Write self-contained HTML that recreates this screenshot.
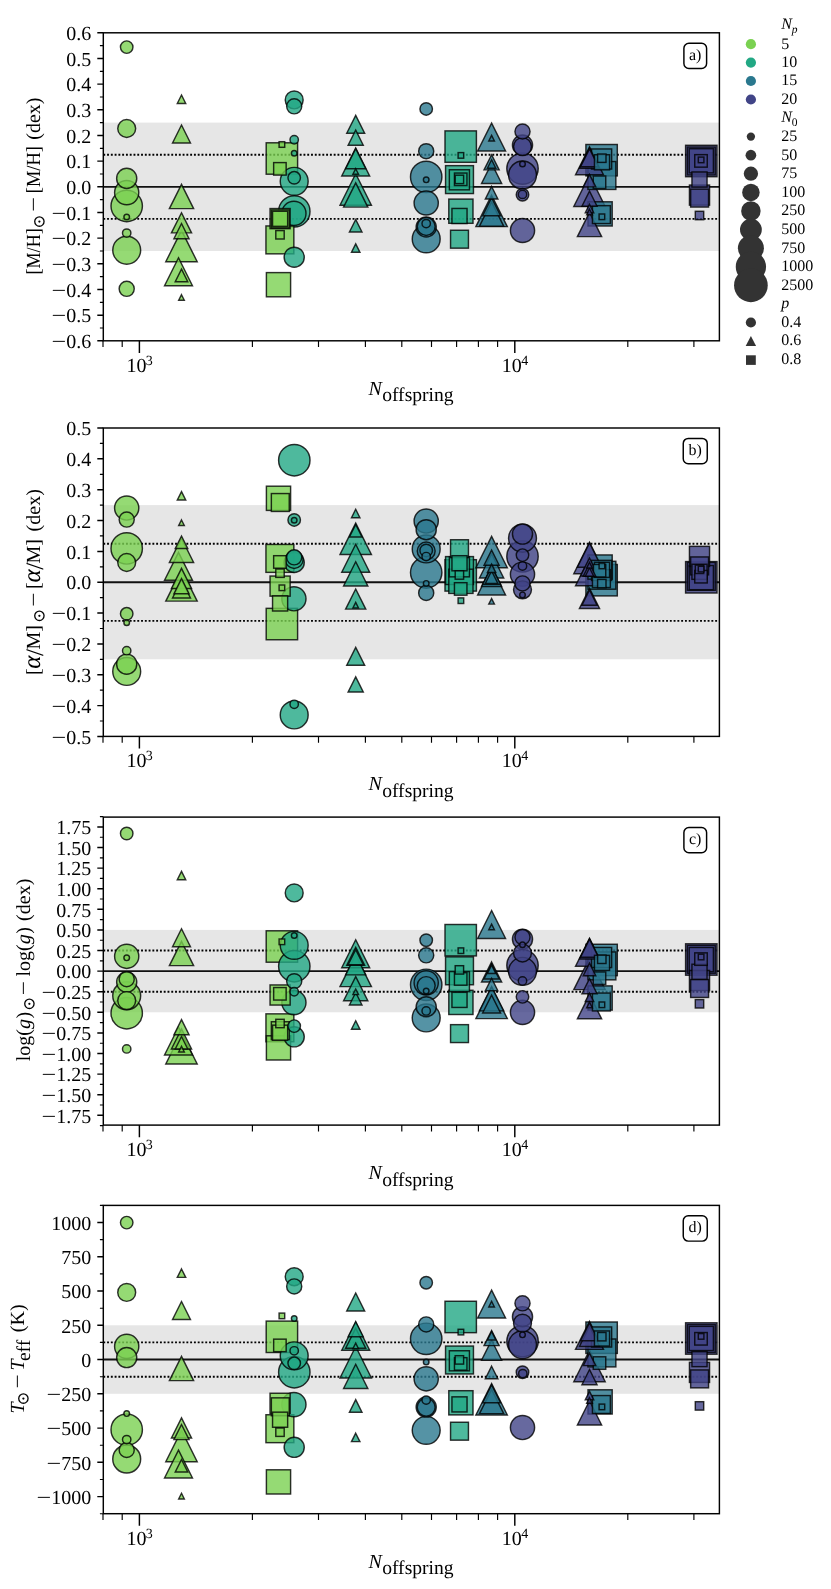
<!DOCTYPE html>
<html lang="en"><head><meta charset="utf-8"><title>Figure</title>
<style>html,body{margin:0;padding:0;background:#fff}svg{display:block;will-change:transform;opacity:.999}.a{fill:#7ad151}.b{fill:#22a884}.c{fill:#2a788e}.d{fill:#414487}svg text{font-family:"Liberation Serif","DejaVu Serif",serif;text-rendering:geometricPrecision}</style>
</head><body>
<svg width="831" height="1589" viewBox="0 0 831 1589" fill="#000">
<rect width="831" height="1589" fill="#fff"/>
<g>
<rect x="103.3" y="122.6" width="616.1" height="128.4" fill="#e6e6e6"/>
<line x1="103.3" x2="719.4" y1="186.8" y2="186.8" stroke="#111" stroke-width="1.85"/>
<line x1="103.3" x2="719.4" y1="154.7" y2="154.7" stroke="#000" stroke-width="1.85" stroke-dasharray="1.89 1.887"/>
<line x1="103.3" x2="719.4" y1="218.9" y2="218.9" stroke="#000" stroke-width="1.85" stroke-dasharray="1.89 1.887"/>
<g stroke="#000" stroke-width="1.45" fill-opacity="0.8" stroke-opacity="0.8" stroke-linejoin="miter">
<circle class="a" cx="126.7" cy="206" r="15.7"/>
<path class="a" d="M181.5 230.35L197.2 261.75H165.8Z"/>
<rect class="a" x="266.2" y="142.8" width="31.4" height="31.4"/>
<circle class="b" cx="294.3" cy="211.4" r="15.7"/>
<path class="b" d="M355.7 173.8L371.4 205.2H340Z"/>
<rect class="b" x="445" y="130.9" width="31.4" height="31.4"/>
<circle class="c" cx="426.2" cy="176.9" r="15.7"/>
<path class="c" d="M491.6 195.2L507.3 226.6H475.9Z"/>
<rect class="c" x="585.9" y="144.5" width="31.4" height="31.4"/>
<circle class="d" cx="522.5" cy="168.6" r="15.7"/>
<path class="d" d="M589.5 175.1L605.2 206.5H573.8Z"/>
<rect class="d" x="685.6" y="145.3" width="31.4" height="31.4"/>
<circle class="a" cx="126.7" cy="250.2" r="13.95"/>
<path class="a" d="M178.5 257.75L192.45 285.65H164.55Z"/>
<rect class="a" x="265.95" y="225.95" width="27.9" height="27.9"/>
<circle class="b" cx="294.2" cy="181.3" r="13.95"/>
<path class="b" d="M355.7 148.05L369.65 175.95H341.75Z"/>
<rect class="b" x="445.55" y="165.65" width="27.9" height="27.9"/>
<circle class="c" cx="426.2" cy="238.9" r="13.95"/>
<path class="c" d="M491.6 123.15L505.55 151.05H477.65Z"/>
<rect class="c" x="587.95" y="161.55" width="27.9" height="27.9"/>
<circle class="d" cx="522.5" cy="175" r="13.95"/>
<path class="d" d="M589.5 146.85L603.45 174.75H575.55Z"/>
<rect class="d" x="687.35" y="147.05" width="27.9" height="27.9"/>
<circle class="a" cx="126.7" cy="192.6" r="12.1"/>
<path class="a" d="M181.5 184.4L193.6 208.6H169.4Z"/>
<rect class="a" x="266.4" y="272.6" width="24.2" height="24.2"/>
<circle class="b" cx="293.9" cy="213.4" r="12.1"/>
<path class="b" d="M355.7 182.9L367.8 207.1H343.6Z"/>
<rect class="b" x="448.8" y="199.1" width="24.2" height="24.2"/>
<circle class="c" cx="426.2" cy="203" r="12.1"/>
<path class="c" d="M491.6 201.9L503.7 226.1H479.5Z"/>
<rect class="c" x="588" y="201.8" width="24.2" height="24.2"/>
<circle class="d" cx="522.5" cy="230.5" r="12.1"/>
<path class="d" d="M589.5 212.4L601.6 236.6H577.4Z"/>
<rect class="d" x="689.2" y="148.7" width="24.2" height="24.2"/>
<circle class="a" cx="126.7" cy="178.4" r="10.05"/>
<path class="a" d="M181.5 212.75L191.55 232.85H171.45Z"/>
<rect class="a" x="270.05" y="208.55" width="20.1" height="20.1"/>
<circle class="b" cx="294.2" cy="257.2" r="10.05"/>
<path class="b" d="M355.7 148.65L365.75 168.75H345.65Z"/>
<rect class="b" x="449.35" y="169.75" width="20.1" height="20.1"/>
<circle class="c" cx="426.2" cy="227" r="10.05"/>
<path class="c" d="M491.6 163.35L501.65 183.45H481.55Z"/>
<rect class="c" x="591.55" y="148.95" width="20.1" height="20.1"/>
<circle class="d" cx="522.5" cy="145" r="10.05"/>
<path class="d" d="M589.5 148.15L599.55 168.25H579.45Z"/>
<rect class="d" x="689.45" y="185.05" width="20.1" height="20.1"/>
<circle class="a" cx="126.7" cy="128.5" r="8.95"/>
<path class="a" d="M181.5 125.05L190.45 142.95H172.55Z"/>
<rect class="a" x="271.35" y="209.95" width="17.9" height="17.9"/>
<circle class="b" cx="294.2" cy="99.9" r="8.95"/>
<path class="b" d="M355.7 115.35L364.65 133.25H346.75Z"/>
<rect class="b" x="450.55" y="230.25" width="17.9" height="17.9"/>
<circle class="c" cx="426.2" cy="226.5" r="8.95"/>
<path class="c" d="M491.6 197.75L500.55 215.65H482.65Z"/>
<rect class="c" x="592.45" y="205.65" width="17.9" height="17.9"/>
<circle class="d" cx="522.5" cy="146.6" r="8.95"/>
<path class="d" d="M589.5 148.85L598.45 166.75H580.55Z"/>
<rect class="d" x="690.65" y="189.15" width="17.9" height="17.9"/>
<circle class="a" cx="126.7" cy="288.8" r="7.55"/>
<path class="a" d="M181.5 223.55L189.05 238.65H173.95Z"/>
<rect class="a" x="272.55" y="211.25" width="15.1" height="15.1"/>
<circle class="b" cx="294.2" cy="106.3" r="7.55"/>
<path class="b" d="M355.7 130.05L363.25 145.15H348.15Z"/>
<rect class="b" x="451.95" y="208.45" width="15.1" height="15.1"/>
<circle class="c" cx="426.2" cy="151.2" r="7.55"/>
<path class="c" d="M491.6 154.75L499.15 169.85H484.05Z"/>
<rect class="c" x="594.45" y="154.75" width="15.1" height="15.1"/>
<circle class="d" cx="522.5" cy="131.5" r="7.55"/>
<path class="d" d="M589.5 191.15L597.05 206.25H581.95Z"/>
<rect class="d" x="691.95" y="171.95" width="15.1" height="15.1"/>
<circle class="a" cx="126.7" cy="47.1" r="6.25"/>
<path class="a" d="M181.5 269.15L187.75 281.65H175.25Z"/>
<rect class="a" x="273.65" y="162.6" width="12.5" height="12.5"/>
<circle class="b" cx="294.2" cy="177.8" r="6.25"/>
<path class="b" d="M355.7 219.5L361.95 232H349.45Z"/>
<rect class="b" x="454.45" y="173.05" width="12.5" height="12.5"/>
<circle class="c" cx="426.2" cy="108.9" r="6.25"/>
<path class="c" d="M491.6 186.45L497.85 198.95H485.35Z"/>
<rect class="c" x="593.25" y="176" width="12.5" height="12.5"/>
<circle class="d" cx="522.5" cy="194.7" r="6.25"/>
<path class="d" d="M589.5 174.35L595.75 186.85H583.25Z"/>
<rect class="d" x="694.75" y="154.65" width="12.5" height="12.5"/>
<circle class="a" cx="126.7" cy="233.1" r="4.2"/>
<path class="a" d="M181.5 95L185.7 103.4H177.3Z"/>
<rect class="a" x="275.8" y="230.6" width="8.4" height="8.4"/>
<circle class="b" cx="294.2" cy="139.7" r="4.2"/>
<path class="b" d="M355.7 243.85L359.9 252.25H351.5Z"/>
<rect class="b" x="455.2" y="175.2" width="8.4" height="8.4"/>
<circle class="c" cx="426.2" cy="223.6" r="4.2"/>
<path class="c" d="M491.6 159.8L495.8 168.2H487.4Z"/>
<rect class="c" x="597.6" y="154" width="8.4" height="8.4"/>
<circle class="d" cx="522.5" cy="194.4" r="4.2"/>
<path class="d" d="M589.5 204.3L593.7 212.7H585.3Z"/>
<rect class="d" x="695.3" y="211.3" width="8.4" height="8.4"/>
<circle class="a" cx="126.7" cy="217" r="2.8"/>
<path class="a" d="M181.5 294.7L184.3 300.3H178.7Z"/>
<rect class="a" x="279.1" y="141.7" width="5.6" height="5.6"/>
<circle class="b" cx="294.2" cy="153.2" r="2.8"/>
<path class="b" d="M355.7 168.7L358.5 174.3H352.9Z"/>
<rect class="b" x="458.1" y="152.6" width="5.6" height="5.6"/>
<circle class="c" cx="426.2" cy="179.8" r="2.8"/>
<path class="c" d="M491.6 135.4L494.4 141H488.8Z"/>
<rect class="c" x="599.1" y="214" width="5.6" height="5.6"/>
<circle class="d" cx="522.5" cy="163.95" r="2.8"/>
<path class="d" d="M589.5 209.2L592.3 214.8H586.7Z"/>
<rect class="d" x="698.3" y="157.1" width="5.6" height="5.6"/>
</g>
<rect x="103.3" y="32.8" width="616.1" height="308.0" fill="none" stroke="#000" stroke-width="1.45"/>
<path d="M103.3 340.8h-6M103.3 315.2h-6M103.3 289.5h-6M103.3 263.8h-6M103.3 238.1h-6M103.3 212.5h-6M103.3 186.8h-6M103.3 161.1h-6M103.3 135.5h-6M103.3 109.8h-6M103.3 84.1h-6M103.3 58.4h-6M103.3 32.8h-6M139.4 340.8v12.1M514.8 340.8v12.1" stroke="#000" stroke-width="1.45" fill="none"/>
<path d="M103.3 328.0h-3.4M103.3 302.3h-3.4M103.3 276.6h-3.4M103.3 251.0h-3.4M103.3 225.3h-3.4M103.3 199.6h-3.4M103.3 174.0h-3.4M103.3 148.3h-3.4M103.3 122.6h-3.4M103.3 97.0h-3.4M103.3 71.3h-3.4M103.3 45.6h-3.4M103.0 340.8v6.3M122.2 340.8v6.3M252.4 340.8v6.3M318.5 340.8v6.3M365.4 340.8v6.3M401.8 340.8v6.3M431.5 340.8v6.3M456.6 340.8v6.3M478.4 340.8v6.3M497.6 340.8v6.3M627.8 340.8v6.3M693.9 340.8v6.3" stroke="#000" stroke-width="1.15" fill="none"/>
<g font-size="20" text-anchor="end">
<text x="91.2" y="348.0"><tspan textLength="14.7" lengthAdjust="spacingAndGlyphs">−</tspan>0.6</text>
<text x="91.2" y="322.4"><tspan textLength="14.7" lengthAdjust="spacingAndGlyphs">−</tspan>0.5</text>
<text x="91.2" y="296.7"><tspan textLength="14.7" lengthAdjust="spacingAndGlyphs">−</tspan>0.4</text>
<text x="91.2" y="271.0"><tspan textLength="14.7" lengthAdjust="spacingAndGlyphs">−</tspan>0.3</text>
<text x="91.2" y="245.3"><tspan textLength="14.7" lengthAdjust="spacingAndGlyphs">−</tspan>0.2</text>
<text x="91.2" y="219.7"><tspan textLength="14.7" lengthAdjust="spacingAndGlyphs">−</tspan>0.1</text>
<text x="91.2" y="194.0">0.0</text>
<text x="91.2" y="168.3">0.1</text>
<text x="91.2" y="142.7">0.2</text>
<text x="91.2" y="117.0">0.3</text>
<text x="91.2" y="91.3">0.4</text>
<text x="91.2" y="65.6">0.5</text>
<text x="91.2" y="40.0">0.6</text>
</g>
<text x="126.4" y="371.8" font-size="20">10<tspan font-size="14" dy="-7" dx="-0.6">3</tspan></text>
<text x="501.8" y="371.8" font-size="20">10<tspan font-size="14" dy="-7" dx="-0.6">4</tspan></text>
<text x="368.6" y="394.7" font-size="20"><tspan font-style="italic">N</tspan><tspan dy="6.5" dx="0.2" font-size="19.6">offspring</tspan></text>
<g transform="translate(40.2 273.0) rotate(-90)"><text x="-1.60" y="0.00" font-size="20" textLength="46.4" lengthAdjust="spacingAndGlyphs">[M/H]</text><text x="44.81" y="3.62" font-size="16.8" style="font-family:'DejaVu Math TeX Gyre','DejaVu Sans',sans-serif">⊙</text><text x="61.29" y="0.00" font-size="20" textLength="14.8" lengthAdjust="spacingAndGlyphs">−</text><text x="79.80" y="0.00" font-size="20" textLength="47.2" lengthAdjust="spacingAndGlyphs">[M/H]</text><text x="133.30" y="0.00" font-size="20">(dex)</text></g>
<rect x="683.90" y="43.2" width="22.7" height="25.3" rx="5" fill="#fff" stroke="#000" stroke-width="1.45"/>
<text x="695.2" y="59.5" font-size="16" text-anchor="middle">a)</text>
</g>
<g>
<rect x="103.3" y="505.1" width="616.1" height="154.2" fill="#e6e6e6"/>
<line x1="103.3" x2="719.4" y1="582.2" y2="582.2" stroke="#111" stroke-width="1.85"/>
<line x1="103.3" x2="719.4" y1="543.7" y2="543.7" stroke="#000" stroke-width="1.85" stroke-dasharray="1.89 1.887"/>
<line x1="103.3" x2="719.4" y1="620.8" y2="620.8" stroke="#000" stroke-width="1.85" stroke-dasharray="1.89 1.887"/>
<g stroke="#000" stroke-width="1.45" fill-opacity="0.8" stroke-opacity="0.8" stroke-linejoin="miter">
<circle class="a" cx="126.7" cy="548.4" r="15.7"/>
<path class="a" d="M181.5 569.7L197.2 601.1H165.8Z"/>
<rect class="a" x="266.2" y="608.35" width="31.4" height="31.4"/>
<circle class="b" cx="294.3" cy="460.2" r="15.7"/>
<path class="b" d="M355.7 523.1L371.4 554.5H340Z"/>
<rect class="b" x="445" y="559.7" width="31.4" height="31.4"/>
<circle class="c" cx="426.2" cy="572.5" r="15.7"/>
<path class="c" d="M491.6 536.4L507.3 567.8H475.9Z"/>
<rect class="c" x="585.9" y="564.5" width="31.4" height="31.4"/>
<circle class="d" cx="522.5" cy="556.4" r="15.7"/>
<path class="d" d="M589.5 542.3L605.2 573.7H573.8Z"/>
<rect class="d" x="685.6" y="561.6" width="31.4" height="31.4"/>
<circle class="a" cx="126.7" cy="671.4" r="13.95"/>
<path class="a" d="M178.5 552.35L192.45 580.25H164.55Z"/>
<rect class="a" x="265.95" y="544.45" width="27.9" height="27.9"/>
<circle class="b" cx="294.2" cy="714.9" r="13.95"/>
<path class="b" d="M355.7 544.25L369.65 572.15H341.75Z"/>
<rect class="b" x="445.55" y="556.6" width="27.9" height="27.9"/>
<circle class="c" cx="426.2" cy="548.9" r="13.95"/>
<path class="c" d="M491.6 567.15L505.55 595.05H477.65Z"/>
<rect class="c" x="587.95" y="561.3" width="27.9" height="27.9"/>
<circle class="d" cx="522.5" cy="538.2" r="13.95"/>
<path class="d" d="M589.5 557.8L603.45 585.7H575.55Z"/>
<rect class="d" x="687.35" y="562.45" width="27.9" height="27.9"/>
<circle class="a" cx="126.7" cy="508" r="12.1"/>
<path class="a" d="M181.5 538.2L193.6 562.4H169.4Z"/>
<rect class="a" x="266.4" y="486.2" width="24.2" height="24.2"/>
<circle class="b" cx="293.9" cy="598.75" r="12.1"/>
<path class="b" d="M355.7 561.8L367.8 586H343.6Z"/>
<rect class="b" x="448.8" y="569.2" width="24.2" height="24.2"/>
<circle class="c" cx="426.2" cy="521" r="12.1"/>
<path class="c" d="M491.6 553.8L503.7 578H479.5Z"/>
<rect class="c" x="588" y="554.95" width="24.2" height="24.2"/>
<circle class="d" cx="522.5" cy="574.2" r="12.1"/>
<path class="d" d="M589.5 543.05L601.6 567.25H577.4Z"/>
<rect class="d" x="689.2" y="565.5" width="24.2" height="24.2"/>
<circle class="a" cx="126.7" cy="664.15" r="10.05"/>
<path class="a" d="M181.5 568.35L191.55 588.45H171.45Z"/>
<rect class="a" x="270.05" y="576.05" width="20.1" height="20.1"/>
<circle class="b" cx="294.2" cy="562.5" r="10.05"/>
<path class="b" d="M355.7 589L365.75 609.1H345.65Z"/>
<rect class="b" x="449.35" y="556.75" width="20.1" height="20.1"/>
<circle class="c" cx="426.2" cy="529.7" r="10.05"/>
<path class="c" d="M491.6 566.5L501.65 586.6H481.55Z"/>
<rect class="c" x="591.55" y="560.35" width="20.1" height="20.1"/>
<circle class="d" cx="522.5" cy="534.1" r="10.05"/>
<path class="d" d="M589.5 588.3L599.55 608.4H579.45Z"/>
<rect class="d" x="689.45" y="546.35" width="20.1" height="20.1"/>
<circle class="a" cx="126.7" cy="562.5" r="8.95"/>
<path class="a" d="M181.5 580L190.45 597.9H172.55Z"/>
<rect class="a" x="271.35" y="493.55" width="17.9" height="17.9"/>
<circle class="b" cx="294.2" cy="559.5" r="8.95"/>
<path class="b" d="M355.7 647.4L364.65 665.3H346.75Z"/>
<rect class="b" x="450.55" y="539.75" width="17.9" height="17.9"/>
<circle class="c" cx="426.2" cy="551" r="8.95"/>
<path class="c" d="M491.6 566.6L500.55 584.5H482.65Z"/>
<rect class="c" x="592.45" y="569.65" width="17.9" height="17.9"/>
<circle class="d" cx="522.5" cy="589.8" r="8.95"/>
<path class="d" d="M589.5 558.02L598.45 575.92H580.55Z"/>
<rect class="d" x="690.65" y="556.95" width="17.9" height="17.9"/>
<circle class="a" cx="126.7" cy="519.6" r="7.55"/>
<path class="a" d="M181.5 578.55L189.05 593.65H173.95Z"/>
<rect class="a" x="272.55" y="595.9" width="15.1" height="15.1"/>
<circle class="b" cx="294.2" cy="557.35" r="7.55"/>
<path class="b" d="M355.7 676.9L363.25 692H348.15Z"/>
<rect class="b" x="451.95" y="555.7" width="15.1" height="15.1"/>
<circle class="c" cx="426.2" cy="592.9" r="7.55"/>
<path class="c" d="M491.6 550.1L499.15 565.2H484.05Z"/>
<rect class="c" x="594.45" y="562.3" width="15.1" height="15.1"/>
<circle class="d" cx="522.5" cy="583.4" r="7.55"/>
<path class="d" d="M589.5 590.05L597.05 605.15H581.95Z"/>
<rect class="d" x="691.95" y="564.25" width="15.1" height="15.1"/>
<circle class="a" cx="126.7" cy="613.8" r="6.25"/>
<path class="a" d="M181.5 536L187.75 548.5H175.25Z"/>
<rect class="a" x="273.65" y="555.7" width="12.5" height="12.5"/>
<circle class="b" cx="294.2" cy="519.9" r="6.25"/>
<path class="b" d="M355.7 524.55L361.95 537.05H349.45Z"/>
<rect class="b" x="454.45" y="582.7" width="12.5" height="12.5"/>
<circle class="c" cx="426.2" cy="550.4" r="6.25"/>
<path class="c" d="M491.6 570.9L497.85 583.4H485.35Z"/>
<rect class="c" x="593.25" y="564.45" width="12.5" height="12.5"/>
<circle class="d" cx="522.5" cy="555.1" r="6.25"/>
<path class="d" d="M589.5 563.7L595.75 576.2H583.25Z"/>
<rect class="d" x="694.75" y="570.45" width="12.5" height="12.5"/>
<circle class="a" cx="126.7" cy="650.65" r="4.2"/>
<path class="a" d="M181.5 491.6L185.7 500H177.3Z"/>
<rect class="a" x="275.8" y="569" width="8.4" height="8.4"/>
<circle class="b" cx="294.2" cy="704.3" r="4.2"/>
<path class="b" d="M355.7 509.25L359.9 517.65H351.5Z"/>
<rect class="b" x="455.2" y="570.8" width="8.4" height="8.4"/>
<circle class="c" cx="426.2" cy="556.6" r="4.2"/>
<path class="c" d="M491.6 564.15L495.8 572.55H487.4Z"/>
<rect class="c" x="597.6" y="579.4" width="8.4" height="8.4"/>
<circle class="d" cx="522.5" cy="566.1" r="4.2"/>
<path class="d" d="M589.5 567.8L593.7 576.2H585.3Z"/>
<rect class="d" x="695.3" y="565.1" width="8.4" height="8.4"/>
<circle class="a" cx="126.7" cy="622.7" r="2.8"/>
<path class="a" d="M181.5 519.95L184.3 525.55H178.7Z"/>
<rect class="a" x="279.1" y="585" width="5.6" height="5.6"/>
<circle class="b" cx="294.2" cy="520.2" r="2.8"/>
<path class="b" d="M355.7 602.4L358.5 608H352.9Z"/>
<rect class="b" x="458.1" y="597.9" width="5.6" height="5.6"/>
<circle class="c" cx="426.2" cy="583.4" r="2.8"/>
<path class="c" d="M491.6 598.5L494.4 604.1H488.8Z"/>
<rect class="c" x="599.1" y="563.1" width="5.6" height="5.6"/>
<circle class="d" cx="522.5" cy="594.9" r="2.8"/>
<path class="d" d="M589.5 562.3L592.3 567.9H586.7Z"/>
<rect class="d" x="698.3" y="566.3" width="5.6" height="5.6"/>
</g>
<rect x="103.3" y="428.0" width="616.1" height="308.4" fill="none" stroke="#000" stroke-width="1.45"/>
<path d="M103.3 736.4h-6M103.3 705.6h-6M103.3 674.7h-6M103.3 643.9h-6M103.3 613.0h-6M103.3 582.2h-6M103.3 551.4h-6M103.3 520.5h-6M103.3 489.7h-6M103.3 458.8h-6M103.3 428.0h-6M139.4 736.4v12.1M514.8 736.4v12.1" stroke="#000" stroke-width="1.45" fill="none"/>
<path d="M103.3 721.0h-3.4M103.3 690.1h-3.4M103.3 659.3h-3.4M103.3 628.5h-3.4M103.3 597.6h-3.4M103.3 566.8h-3.4M103.3 535.9h-3.4M103.3 505.1h-3.4M103.3 474.3h-3.4M103.3 443.4h-3.4M103.0 736.4v6.3M122.2 736.4v6.3M252.4 736.4v6.3M318.5 736.4v6.3M365.4 736.4v6.3M401.8 736.4v6.3M431.5 736.4v6.3M456.6 736.4v6.3M478.4 736.4v6.3M497.6 736.4v6.3M627.8 736.4v6.3M693.9 736.4v6.3" stroke="#000" stroke-width="1.15" fill="none"/>
<g font-size="20" text-anchor="end">
<text x="91.2" y="743.6"><tspan textLength="14.7" lengthAdjust="spacingAndGlyphs">−</tspan>0.5</text>
<text x="91.2" y="712.8"><tspan textLength="14.7" lengthAdjust="spacingAndGlyphs">−</tspan>0.4</text>
<text x="91.2" y="681.9"><tspan textLength="14.7" lengthAdjust="spacingAndGlyphs">−</tspan>0.3</text>
<text x="91.2" y="651.1"><tspan textLength="14.7" lengthAdjust="spacingAndGlyphs">−</tspan>0.2</text>
<text x="91.2" y="620.2"><tspan textLength="14.7" lengthAdjust="spacingAndGlyphs">−</tspan>0.1</text>
<text x="91.2" y="589.4">0.0</text>
<text x="91.2" y="558.6">0.1</text>
<text x="91.2" y="527.7">0.2</text>
<text x="91.2" y="496.9">0.3</text>
<text x="91.2" y="466.0">0.4</text>
<text x="91.2" y="435.2">0.5</text>
</g>
<text x="126.4" y="767.4" font-size="20">10<tspan font-size="14" dy="-7" dx="-0.6">3</tspan></text>
<text x="501.8" y="767.4" font-size="20">10<tspan font-size="14" dy="-7" dx="-0.6">4</tspan></text>
<text x="368.6" y="790.3" font-size="20"><tspan font-style="italic">N</tspan><tspan dy="6.5" dx="0.2" font-size="19.6">offspring</tspan></text>
<g transform="translate(40.2 673.5) rotate(-90)"><text x="-1.60" y="0.00" font-size="20">[<tspan font-style="italic" font-size="25" dx="-0.2">α</tspan><tspan dx="-0.4" dy="2.5" font-size="25">/</tspan><tspan dx="-0.6" dy="-2.5">M]</tspan></text><text x="50.91" y="3.62" font-size="16.8" style="font-family:'DejaVu Math TeX Gyre','DejaVu Sans',sans-serif">⊙</text><text x="66.84" y="0.00" font-size="20" textLength="14.3" lengthAdjust="spacingAndGlyphs">−</text><text x="84.50" y="0.00" font-size="20">[<tspan font-style="italic" font-size="25" dx="-0.2">α</tspan><tspan dx="-0.4" dy="2.5" font-size="25">/</tspan><tspan dx="-0.6" dy="-2.5">M]</tspan></text><text x="142.10" y="0.00" font-size="20">(dex)</text></g>
<rect x="683.25" y="438.4" width="24.0" height="25.3" rx="5" fill="#fff" stroke="#000" stroke-width="1.45"/>
<text x="695.2" y="454.7" font-size="16" text-anchor="middle">b)</text>
</g>
<g>
<rect x="103.3" y="929.9" width="616.1" height="82.4" fill="#e6e6e6"/>
<line x1="103.3" x2="719.4" y1="971.1" y2="971.1" stroke="#111" stroke-width="1.85"/>
<line x1="103.3" x2="719.4" y1="950.5" y2="950.5" stroke="#000" stroke-width="1.85" stroke-dasharray="1.89 1.887"/>
<line x1="103.3" x2="719.4" y1="991.7" y2="991.7" stroke="#000" stroke-width="1.85" stroke-dasharray="1.89 1.887"/>
<g stroke="#000" stroke-width="1.45" fill-opacity="0.8" stroke-opacity="0.8" stroke-linejoin="miter">
<circle class="a" cx="126.7" cy="1013.2" r="15.7"/>
<path class="a" d="M181.5 1032.5L197.2 1063.9H165.8Z"/>
<rect class="a" x="266.2" y="930.8" width="31.4" height="31.4"/>
<circle class="b" cx="294.3" cy="966.25" r="15.7"/>
<path class="b" d="M355.7 955.2L371.4 986.6H340Z"/>
<rect class="b" x="445" y="924.5" width="31.4" height="31.4"/>
<circle class="c" cx="426.2" cy="984.8" r="15.7"/>
<path class="c" d="M491.6 987.2L507.3 1018.6H475.9Z"/>
<rect class="c" x="585.9" y="944.26" width="31.4" height="31.4"/>
<circle class="d" cx="522.5" cy="965.3" r="15.7"/>
<path class="d" d="M589.5 958.2L605.2 989.6H573.8Z"/>
<rect class="d" x="685.6" y="943.8" width="31.4" height="31.4"/>
<circle class="a" cx="126.7" cy="995.75" r="13.95"/>
<path class="a" d="M178.5 1027.05L192.45 1054.95H164.55Z"/>
<rect class="a" x="265.95" y="1013.85" width="27.9" height="27.9"/>
<circle class="b" cx="294.2" cy="945.3" r="13.95"/>
<path class="b" d="M355.7 939.75L369.65 967.65H341.75Z"/>
<rect class="b" x="445.55" y="956.85" width="27.9" height="27.9"/>
<circle class="c" cx="426.2" cy="1017.9" r="13.95"/>
<path class="c" d="M491.6 910.5L505.55 938.4H477.65Z"/>
<rect class="c" x="587.95" y="951.95" width="27.9" height="27.9"/>
<circle class="d" cx="522.5" cy="971.3" r="13.95"/>
<path class="d" d="M589.5 938.25L603.45 966.15H575.55Z"/>
<rect class="d" x="687.35" y="945.35" width="27.9" height="27.9"/>
<circle class="a" cx="126.7" cy="956.3" r="12.1"/>
<path class="a" d="M181.5 941.4L193.6 965.6H169.4Z"/>
<rect class="a" x="266.4" y="1035.8" width="24.2" height="24.2"/>
<circle class="b" cx="293.9" cy="1002.6" r="12.1"/>
<path class="b" d="M355.7 976.6L367.8 1000.8H343.6Z"/>
<rect class="b" x="448.8" y="990.3" width="24.2" height="24.2"/>
<circle class="c" cx="426.2" cy="982.85" r="12.1"/>
<path class="c" d="M491.6 986.65L503.7 1010.85H479.5Z"/>
<rect class="c" x="588" y="985.9" width="24.2" height="24.2"/>
<circle class="d" cx="522.5" cy="1012.4" r="12.1"/>
<path class="d" d="M589.5 994.6L601.6 1018.8H577.4Z"/>
<rect class="d" x="689.2" y="947.45" width="24.2" height="24.2"/>
<circle class="a" cx="126.7" cy="982.1" r="10.05"/>
<path class="a" d="M181.5 1028.9L191.55 1049H171.45Z"/>
<rect class="a" x="270.05" y="984.95" width="20.1" height="20.1"/>
<circle class="b" cx="294.2" cy="1036.8" r="10.05"/>
<path class="b" d="M355.7 954.75L365.75 974.85H345.65Z"/>
<rect class="b" x="449.35" y="971.55" width="20.1" height="20.1"/>
<circle class="c" cx="426.2" cy="1006.75" r="10.05"/>
<path class="c" d="M491.6 961.95L501.65 982.05H481.55Z"/>
<rect class="c" x="591.55" y="947.45" width="20.1" height="20.1"/>
<circle class="d" cx="522.5" cy="939.2" r="10.05"/>
<path class="d" d="M589.5 938.85L599.55 958.95H579.45Z"/>
<rect class="d" x="689.45" y="970.45" width="20.1" height="20.1"/>
<circle class="a" cx="126.7" cy="1000.6" r="8.95"/>
<path class="a" d="M181.5 928.75L190.45 946.65H172.55Z"/>
<rect class="a" x="271.35" y="1021.75" width="17.9" height="17.9"/>
<circle class="b" cx="294.2" cy="892.9" r="8.95"/>
<path class="b" d="M355.7 947.25L364.65 965.15H346.75Z"/>
<rect class="b" x="450.55" y="1024.65" width="17.9" height="17.9"/>
<circle class="c" cx="426.2" cy="985.6" r="8.95"/>
<path class="c" d="M491.6 995.1L500.55 1013H482.65Z"/>
<rect class="c" x="592.45" y="993.05" width="17.9" height="17.9"/>
<circle class="d" cx="522.5" cy="953" r="8.95"/>
<path class="d" d="M589.5 939.25L598.45 957.15H580.55Z"/>
<rect class="d" x="690.65" y="979.55" width="17.9" height="17.9"/>
<circle class="a" cx="126.7" cy="979.2" r="7.55"/>
<path class="a" d="M181.5 1019.65L189.05 1034.75H173.95Z"/>
<rect class="a" x="272.55" y="1025.15" width="15.1" height="15.1"/>
<circle class="b" cx="294.2" cy="981.2" r="7.55"/>
<path class="b" d="M355.7 949.6L363.25 964.7H348.15Z"/>
<rect class="b" x="451.95" y="992.35" width="15.1" height="15.1"/>
<circle class="c" cx="426.2" cy="955.3" r="7.55"/>
<path class="c" d="M491.6 963.8L499.15 978.9H484.05Z"/>
<rect class="c" x="594.45" y="955.35" width="15.1" height="15.1"/>
<circle class="d" cx="522.5" cy="937.05" r="7.55"/>
<path class="d" d="M589.5 978.65L597.05 993.75H581.95Z"/>
<rect class="d" x="691.95" y="964.25" width="15.1" height="15.1"/>
<circle class="a" cx="126.7" cy="833.5" r="6.25"/>
<path class="a" d="M181.5 1036.5L187.75 1049H175.25Z"/>
<rect class="a" x="273.65" y="987.55" width="12.5" height="12.5"/>
<circle class="b" cx="294.2" cy="1026.1" r="6.25"/>
<path class="b" d="M355.7 992.5L361.95 1005H349.45Z"/>
<rect class="b" x="454.45" y="972.7" width="12.5" height="12.5"/>
<circle class="c" cx="426.2" cy="940.2" r="6.25"/>
<path class="c" d="M491.6 978.25L497.85 990.75H485.35Z"/>
<rect class="c" x="593.25" y="971.95" width="12.5" height="12.5"/>
<circle class="d" cx="522.5" cy="996.85" r="6.25"/>
<path class="d" d="M589.5 963.15L595.75 975.65H583.25Z"/>
<rect class="d" x="694.75" y="952.85" width="12.5" height="12.5"/>
<circle class="a" cx="126.7" cy="1048.9" r="4.2"/>
<path class="a" d="M181.5 871.4L185.7 879.8H177.3Z"/>
<rect class="a" x="275.8" y="1019.3" width="8.4" height="8.4"/>
<circle class="b" cx="294.2" cy="991.75" r="4.2"/>
<path class="b" d="M355.7 1020.8L359.9 1029.2H351.5Z"/>
<rect class="b" x="455.2" y="965.7" width="8.4" height="8.4"/>
<circle class="c" cx="426.2" cy="1010.9" r="4.2"/>
<path class="c" d="M491.6 965.1L495.8 973.5H487.4Z"/>
<rect class="c" x="597.6" y="955.1" width="8.4" height="8.4"/>
<circle class="d" cx="522.5" cy="980.9" r="4.2"/>
<path class="d" d="M589.5 993L593.7 1001.4H585.3Z"/>
<rect class="d" x="695.3" y="999.6" width="8.4" height="8.4"/>
<circle class="a" cx="126.7" cy="957.8" r="2.8"/>
<path class="a" d="M181.5 1046.4L184.3 1052H178.7Z"/>
<rect class="a" x="279.1" y="939" width="5.6" height="5.6"/>
<circle class="b" cx="294.2" cy="935.45" r="2.8"/>
<path class="b" d="M355.7 989L358.5 994.6H352.9Z"/>
<rect class="b" x="458.1" y="947.9" width="5.6" height="5.6"/>
<circle class="c" cx="426.2" cy="991" r="2.8"/>
<path class="c" d="M491.6 924.1L494.4 929.7H488.8Z"/>
<rect class="c" x="599.1" y="1002" width="5.6" height="5.6"/>
<circle class="d" cx="522.5" cy="944.7" r="2.8"/>
<path class="d" d="M589.5 1002.1L592.3 1007.7H586.7Z"/>
<rect class="d" x="698.3" y="954.2" width="5.6" height="5.6"/>
</g>
<rect x="103.3" y="817.1" width="616.1" height="308.0" fill="none" stroke="#000" stroke-width="1.45"/>
<path d="M103.3 1115.3h-6M103.3 1094.7h-6M103.3 1074.1h-6M103.3 1053.5h-6M103.3 1032.9h-6M103.3 1012.3h-6M103.3 991.7h-6M103.3 971.1h-6M103.3 950.5h-6M103.3 929.9h-6M103.3 909.3h-6M103.3 888.7h-6M103.3 868.1h-6M103.3 847.5h-6M103.3 826.9h-6M139.4 1125.1v12.1M514.8 1125.1v12.1" stroke="#000" stroke-width="1.45" fill="none"/>
<path d="M103.3 1125.6h-3.4M103.3 1105.0h-3.4M103.3 1084.4h-3.4M103.3 1063.8h-3.4M103.3 1043.2h-3.4M103.3 1022.6h-3.4M103.3 1002.0h-3.4M103.3 981.4h-3.4M103.3 960.8h-3.4M103.3 940.2h-3.4M103.3 919.6h-3.4M103.3 899.0h-3.4M103.3 878.4h-3.4M103.3 857.8h-3.4M103.3 837.2h-3.4M103.3 816.6h-3.4M103.0 1125.1v6.3M122.2 1125.1v6.3M252.4 1125.1v6.3M318.5 1125.1v6.3M365.4 1125.1v6.3M401.8 1125.1v6.3M431.5 1125.1v6.3M456.6 1125.1v6.3M478.4 1125.1v6.3M497.6 1125.1v6.3M627.8 1125.1v6.3M693.9 1125.1v6.3" stroke="#000" stroke-width="1.15" fill="none"/>
<g font-size="20" text-anchor="end">
<text x="91.2" y="1122.5"><tspan textLength="14.7" lengthAdjust="spacingAndGlyphs">−</tspan>1.75</text>
<text x="91.2" y="1101.9"><tspan textLength="14.7" lengthAdjust="spacingAndGlyphs">−</tspan>1.50</text>
<text x="91.2" y="1081.3"><tspan textLength="14.7" lengthAdjust="spacingAndGlyphs">−</tspan>1.25</text>
<text x="91.2" y="1060.7"><tspan textLength="14.7" lengthAdjust="spacingAndGlyphs">−</tspan>1.00</text>
<text x="91.2" y="1040.1"><tspan textLength="14.7" lengthAdjust="spacingAndGlyphs">−</tspan>0.75</text>
<text x="91.2" y="1019.5"><tspan textLength="14.7" lengthAdjust="spacingAndGlyphs">−</tspan>0.50</text>
<text x="91.2" y="998.9"><tspan textLength="14.7" lengthAdjust="spacingAndGlyphs">−</tspan>0.25</text>
<text x="91.2" y="978.3">0.00</text>
<text x="91.2" y="957.7">0.25</text>
<text x="91.2" y="937.1">0.50</text>
<text x="91.2" y="916.5">0.75</text>
<text x="91.2" y="895.9">1.00</text>
<text x="91.2" y="875.3">1.25</text>
<text x="91.2" y="854.7">1.50</text>
<text x="91.2" y="834.1">1.75</text>
</g>
<text x="126.4" y="1156.1" font-size="20">10<tspan font-size="14" dy="-7" dx="-0.6">3</tspan></text>
<text x="501.8" y="1156.1" font-size="20">10<tspan font-size="14" dy="-7" dx="-0.6">4</tspan></text>
<text x="368.6" y="1179.0" font-size="20"><tspan font-style="italic">N</tspan><tspan dy="6.5" dx="0.2" font-size="19.6">offspring</tspan></text>
<g transform="translate(29.8 1060.8) rotate(-90)"><text x="-0.40" y="0.00" font-size="20">log(<tspan font-style="italic">g</tspan><tspan dx="0.6">)</tspan></text><text x="50.21" y="4.42" font-size="16.8" style="font-family:'DejaVu Math TeX Gyre','DejaVu Sans',sans-serif">⊙</text><text x="65.64" y="0.00" font-size="20" textLength="14.3" lengthAdjust="spacingAndGlyphs">−</text><text x="84.30" y="0.00" font-size="20">log(<tspan font-style="italic">g</tspan><tspan dx="0.6">)</tspan></text><text x="139.90" y="0.00" font-size="20">(dex)</text></g>
<rect x="683.90" y="827.5" width="22.7" height="25.3" rx="5" fill="#fff" stroke="#000" stroke-width="1.45"/>
<text x="695.2" y="843.8" font-size="16" text-anchor="middle">c)</text>
</g>
<g>
<rect x="103.3" y="1325.3" width="616.1" height="68.5" fill="#e6e6e6"/>
<line x1="103.3" x2="719.4" y1="1359.5" y2="1359.5" stroke="#111" stroke-width="1.85"/>
<line x1="103.3" x2="719.4" y1="1342.4" y2="1342.4" stroke="#000" stroke-width="1.85" stroke-dasharray="1.89 1.887"/>
<line x1="103.3" x2="719.4" y1="1376.7" y2="1376.7" stroke="#000" stroke-width="1.85" stroke-dasharray="1.89 1.887"/>
<g stroke="#000" stroke-width="1.45" fill-opacity="0.8" stroke-opacity="0.8" stroke-linejoin="miter">
<circle class="a" cx="126.7" cy="1429.7" r="15.7"/>
<path class="a" d="M181.5 1430.4L197.2 1461.8H165.8Z"/>
<rect class="a" x="266.2" y="1321.1" width="31.4" height="31.4"/>
<circle class="b" cx="294.3" cy="1372.2" r="15.7"/>
<path class="b" d="M355.7 1346.5L371.4 1377.9H340Z"/>
<rect class="b" x="445" y="1301.26" width="31.4" height="31.4"/>
<circle class="c" cx="426.2" cy="1338.8" r="15.7"/>
<path class="c" d="M491.6 1383.5L507.3 1414.9H475.9Z"/>
<rect class="c" x="585.9" y="1322" width="31.4" height="31.4"/>
<circle class="d" cx="522.5" cy="1341.2" r="15.7"/>
<path class="d" d="M589.5 1350.3L605.2 1381.7H573.8Z"/>
<rect class="d" x="685.6" y="1322.8" width="31.4" height="31.4"/>
<circle class="a" cx="126.7" cy="1459" r="13.95"/>
<path class="a" d="M178.5 1450.1L192.45 1478H164.55Z"/>
<rect class="a" x="265.95" y="1414.75" width="27.9" height="27.9"/>
<circle class="b" cx="294.2" cy="1355.8" r="13.95"/>
<path class="b" d="M355.7 1322.35L369.65 1350.25H341.75Z"/>
<rect class="b" x="445.55" y="1346.05" width="27.9" height="27.9"/>
<circle class="c" cx="426.2" cy="1430.3" r="13.95"/>
<path class="c" d="M491.6 1290.15L505.55 1318.05H477.65Z"/>
<rect class="c" x="587.95" y="1339" width="27.9" height="27.9"/>
<circle class="d" cx="522.5" cy="1344.7" r="13.95"/>
<path class="d" d="M589.5 1321.45L603.45 1349.35H575.55Z"/>
<rect class="d" x="687.35" y="1324.55" width="27.9" height="27.9"/>
<circle class="a" cx="126.7" cy="1346.4" r="12.1"/>
<path class="a" d="M181.5 1356.4L193.6 1380.6H169.4Z"/>
<rect class="a" x="266.4" y="1469.8" width="24.2" height="24.2"/>
<circle class="b" cx="293.9" cy="1404.6" r="12.1"/>
<path class="b" d="M355.7 1364.3L367.8 1388.5H343.6Z"/>
<rect class="b" x="448.8" y="1390.7" width="24.2" height="24.2"/>
<circle class="c" cx="426.2" cy="1378.8" r="12.1"/>
<path class="c" d="M491.6 1389.4L503.7 1413.6H479.5Z"/>
<rect class="c" x="588" y="1389.8" width="24.2" height="24.2"/>
<circle class="d" cx="522.5" cy="1427.5" r="12.1"/>
<path class="d" d="M589.5 1400.75L601.6 1424.95H577.4Z"/>
<rect class="d" x="689.2" y="1326.35" width="24.2" height="24.2"/>
<circle class="a" cx="126.7" cy="1357.6" r="10.05"/>
<path class="a" d="M181.5 1417.9L191.55 1438H171.45Z"/>
<rect class="a" x="270.05" y="1393.25" width="20.1" height="20.1"/>
<circle class="b" cx="294.2" cy="1447.3" r="10.05"/>
<path class="b" d="M355.7 1328.15L365.75 1348.25H345.65Z"/>
<rect class="b" x="449.35" y="1350.75" width="20.1" height="20.1"/>
<circle class="c" cx="426.2" cy="1407.1" r="10.05"/>
<path class="c" d="M491.6 1340.2L501.65 1360.3H481.55Z"/>
<rect class="c" x="591.55" y="1326.95" width="20.1" height="20.1"/>
<circle class="d" cx="522.5" cy="1316.7" r="10.05"/>
<path class="d" d="M589.5 1326.35L599.55 1346.45H579.45Z"/>
<rect class="d" x="689.45" y="1362.35" width="20.1" height="20.1"/>
<circle class="a" cx="126.7" cy="1292.4" r="8.95"/>
<path class="a" d="M181.5 1301.55L190.45 1319.45H172.55Z"/>
<rect class="a" x="271.35" y="1397.85" width="17.9" height="17.9"/>
<circle class="b" cx="294.2" cy="1276.7" r="8.95"/>
<path class="b" d="M355.7 1293.05L364.65 1310.95H346.75Z"/>
<rect class="b" x="450.55" y="1422.25" width="17.9" height="17.9"/>
<circle class="c" cx="426.2" cy="1407.3" r="8.95"/>
<path class="c" d="M491.6 1384.85L500.55 1402.75H482.65Z"/>
<rect class="c" x="592.45" y="1395.55" width="17.9" height="17.9"/>
<circle class="d" cx="522.5" cy="1323.15" r="8.95"/>
<path class="d" d="M589.5 1322.85L598.45 1340.75H580.55Z"/>
<rect class="d" x="690.65" y="1369.95" width="17.9" height="17.9"/>
<circle class="a" cx="126.7" cy="1450" r="7.55"/>
<path class="a" d="M181.5 1424.5L189.05 1439.6H173.95Z"/>
<rect class="a" x="272.55" y="1412.15" width="15.1" height="15.1"/>
<circle class="b" cx="294.2" cy="1286.4" r="7.55"/>
<path class="b" d="M355.7 1321.55L363.25 1336.65H348.15Z"/>
<rect class="b" x="451.95" y="1396.85" width="15.1" height="15.1"/>
<circle class="c" cx="426.2" cy="1324.4" r="7.55"/>
<path class="c" d="M491.6 1330.5L499.15 1345.6H484.05Z"/>
<rect class="c" x="594.45" y="1330.95" width="15.1" height="15.1"/>
<circle class="d" cx="522.5" cy="1303.3" r="7.55"/>
<path class="d" d="M589.5 1369.55L597.05 1384.65H581.95Z"/>
<rect class="d" x="691.95" y="1351.55" width="15.1" height="15.1"/>
<circle class="a" cx="126.7" cy="1222.6" r="6.25"/>
<path class="a" d="M181.5 1459.5L187.75 1472H175.25Z"/>
<rect class="a" x="273.65" y="1339.15" width="12.5" height="12.5"/>
<circle class="b" cx="294.2" cy="1363.3" r="6.25"/>
<path class="b" d="M355.7 1399.65L361.95 1412.15H349.45Z"/>
<rect class="b" x="454.45" y="1357.65" width="12.5" height="12.5"/>
<circle class="c" cx="426.2" cy="1282.7" r="6.25"/>
<path class="c" d="M491.6 1366.2L497.85 1378.7H485.35Z"/>
<rect class="c" x="593.25" y="1356.8" width="12.5" height="12.5"/>
<circle class="d" cx="522.5" cy="1372.2" r="6.25"/>
<path class="d" d="M589.5 1353.1L595.75 1365.6H583.25Z"/>
<rect class="d" x="694.75" y="1332.55" width="12.5" height="12.5"/>
<circle class="a" cx="126.7" cy="1439.6" r="4.2"/>
<path class="a" d="M181.5 1268.95L185.7 1277.35H177.3Z"/>
<rect class="a" x="275.8" y="1428" width="8.4" height="8.4"/>
<circle class="b" cx="294.2" cy="1350.8" r="4.2"/>
<path class="b" d="M355.7 1433.2L359.9 1441.6H351.5Z"/>
<rect class="b" x="455.2" y="1355.7" width="8.4" height="8.4"/>
<circle class="c" cx="426.2" cy="1400.1" r="4.2"/>
<path class="c" d="M491.6 1331.5L495.8 1339.9H487.4Z"/>
<rect class="c" x="597.6" y="1332.5" width="8.4" height="8.4"/>
<circle class="d" cx="522.8" cy="1373.6" r="4.2"/>
<path class="d" d="M589.5 1391.4L593.7 1399.8H585.3Z"/>
<rect class="d" x="695.3" y="1401.7" width="8.4" height="8.4"/>
<circle class="a" cx="126.7" cy="1413.6" r="2.8"/>
<path class="a" d="M181.5 1493.3L184.3 1498.9H178.7Z"/>
<rect class="a" x="279.1" y="1313.1" width="5.6" height="5.6"/>
<circle class="b" cx="294.2" cy="1318.5" r="2.8"/>
<path class="b" d="M355.7 1343.15L358.5 1348.75H352.9Z"/>
<rect class="b" x="458.1" y="1329.3" width="5.6" height="5.6"/>
<circle class="c" cx="426.2" cy="1362.1" r="2.8"/>
<path class="c" d="M491.6 1301.3L494.4 1306.9H488.8Z"/>
<rect class="c" x="599.1" y="1404.1" width="5.6" height="5.6"/>
<circle class="d" cx="522.5" cy="1334.8" r="2.8"/>
<path class="d" d="M589.5 1397.7L592.3 1403.3H586.7Z"/>
<rect class="d" x="698.3" y="1333.6" width="5.6" height="5.6"/>
</g>
<rect x="103.3" y="1205.4" width="616.1" height="308.3" fill="none" stroke="#000" stroke-width="1.45"/>
<path d="M103.3 1496.6h-6M103.3 1462.3h-6M103.3 1428.1h-6M103.3 1393.8h-6M103.3 1359.5h-6M103.3 1325.3h-6M103.3 1291.0h-6M103.3 1256.8h-6M103.3 1222.5h-6M139.4 1513.7v12.1M514.8 1513.7v12.1" stroke="#000" stroke-width="1.45" fill="none"/>
<path d="M103.3 1513.7h-3.4M103.3 1479.5h-3.4M103.3 1445.2h-3.4M103.3 1410.9h-3.4M103.3 1376.7h-3.4M103.3 1342.4h-3.4M103.3 1308.2h-3.4M103.3 1273.9h-3.4M103.3 1239.6h-3.4M103.3 1205.4h-3.4M103.0 1513.7v6.3M122.2 1513.7v6.3M252.4 1513.7v6.3M318.5 1513.7v6.3M365.4 1513.7v6.3M401.8 1513.7v6.3M431.5 1513.7v6.3M456.6 1513.7v6.3M478.4 1513.7v6.3M497.6 1513.7v6.3M627.8 1513.7v6.3M693.9 1513.7v6.3" stroke="#000" stroke-width="1.15" fill="none"/>
<g font-size="20" text-anchor="end">
<text x="91.2" y="1503.8"><tspan textLength="14.7" lengthAdjust="spacingAndGlyphs">−</tspan>1000</text>
<text x="91.2" y="1469.5"><tspan textLength="14.7" lengthAdjust="spacingAndGlyphs">−</tspan>750</text>
<text x="91.2" y="1435.3"><tspan textLength="14.7" lengthAdjust="spacingAndGlyphs">−</tspan>500</text>
<text x="91.2" y="1401.0"><tspan textLength="14.7" lengthAdjust="spacingAndGlyphs">−</tspan>250</text>
<text x="91.2" y="1366.8">0</text>
<text x="91.2" y="1332.5">250</text>
<text x="91.2" y="1298.2">500</text>
<text x="91.2" y="1264.0">750</text>
<text x="91.2" y="1229.7">1000</text>
</g>
<text x="126.4" y="1544.7" font-size="20">10<tspan font-size="14" dy="-7" dx="-0.6">3</tspan></text>
<text x="501.8" y="1544.7" font-size="20">10<tspan font-size="14" dy="-7" dx="-0.6">4</tspan></text>
<text x="368.6" y="1567.6" font-size="20"><tspan font-style="italic">N</tspan><tspan dy="6.5" dx="0.2" font-size="19.6">offspring</tspan></text>
<g transform="translate(23.9 1412.5) rotate(-90)"><text x="-1.00" y="0.00" font-size="20" font-style="italic">T</text><text x="7.21" y="3.72" font-size="16.8" style="font-family:'DejaVu Math TeX Gyre','DejaVu Sans',sans-serif">⊙</text><text x="23.94" y="0.00" font-size="20" textLength="14.3" lengthAdjust="spacingAndGlyphs">−</text><text x="42.00" y="0.00" font-size="20" font-style="italic">T</text><text x="51.40" y="6.00" font-size="19.5">eff</text><text x="80.30" y="0.00" font-size="20">(K)</text></g>
<rect x="683.25" y="1215.8" width="24.0" height="25.3" rx="5" fill="#fff" stroke="#000" stroke-width="1.45"/>
<text x="695.2" y="1232.1" font-size="16" text-anchor="middle">d)</text>
</g>
<g font-size="16">
<text x="781.2" y="28.7"><tspan font-style="italic">N</tspan><tspan font-size="11.5" dy="4" font-style="italic">p</tspan></text>
<text x="781.2" y="48.5">5</text>
<circle cx="750.9" cy="44.2" r="5.1" fill="#7ad151"/>
<text x="781.2" y="66.9">10</text>
<circle cx="750.9" cy="62.6" r="5.1" fill="#22a884"/>
<text x="781.2" y="85.3">15</text>
<circle cx="750.9" cy="81.0" r="5.1" fill="#2a788e"/>
<text x="781.2" y="103.8">20</text>
<circle cx="750.9" cy="99.5" r="5.1" fill="#414487"/>
<text x="781.2" y="122.3"><tspan font-style="italic">N</tspan><tspan font-size="11.5" dy="4" >0</tspan></text>
<text x="781.2" y="140.9">25</text>
<circle cx="750.9" cy="136.6" r="4.15" fill="#333"/>
<text x="781.2" y="159.5">50</text>
<circle cx="750.9" cy="155.2" r="5.35" fill="#333"/>
<text x="781.2" y="178.0">75</text>
<circle cx="750.9" cy="173.7" r="7.15" fill="#333"/>
<text x="781.2" y="196.7">100</text>
<circle cx="750.9" cy="192.4" r="8.75" fill="#333"/>
<text x="781.2" y="215.3">250</text>
<circle cx="750.9" cy="211.0" r="9.75" fill="#333"/>
<text x="781.2" y="233.9">500</text>
<circle cx="750.9" cy="229.6" r="10.90" fill="#333"/>
<text x="781.2" y="252.5">750</text>
<circle cx="750.9" cy="248.2" r="13.00" fill="#333"/>
<text x="781.2" y="271.1">1000</text>
<circle cx="750.9" cy="266.8" r="15.15" fill="#333"/>
<text x="781.2" y="289.6">2500</text>
<circle cx="750.9" cy="285.3" r="16.85" fill="#333"/>
<text x="781.2" y="308.2"><tspan font-style="italic">p</tspan></text>
<text x="781.2" y="326.7">0.4</text>
<circle cx="750.9" cy="322.5" r="5.1" fill="#333"/>
<text x="781.2" y="345.2">0.6</text>
<path d="M750.9 336L756.1 346.1H745.6999999999999Z" fill="#333"/>
<text x="781.2" y="363.7">0.8</text>
<rect x="746.0" y="355.3" width="9.8" height="9.6" fill="#333"/>
</g>
</svg>
</body></html>
